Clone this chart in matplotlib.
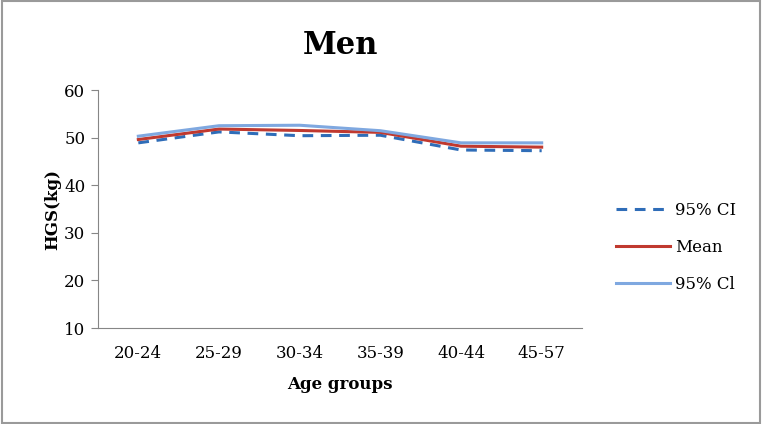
import numpy as np
import matplotlib.pyplot as plt
from matplotlib.patches import Rectangle

groups = ["20-24", "25-29", "30-34", "35-39", "40-44", "45-57"]
ci_low = [48.9, 51.2, 50.4, 50.5, 47.4, 47.25]
mean = [49.6, 51.8, 51.5, 51.1, 48.2, 48.0]
ci_high = [50.3, 52.5, 52.6, 51.45, 48.9, 48.9]

plt.rcParams["font.family"] = ["DejaVu Serif"]

fig = plt.figure(figsize=(7.62, 4.24), dpi=100)
ax = fig.add_axes([0.1286, 0.2264, 0.6352, 0.5613])

x = np.arange(len(groups))
ax.plot(x, ci_low, color="#2F6DB8", lw=2.2, ls=(0, (3.5, 2.5)), label="95% CI")
ax.plot(x, mean, color="#C0392F", lw=2.2, label="Mean")
ax.plot(x, ci_high, color="#7FA8E0", lw=2.2, label="95% Cl")

ax.set_xlim(-0.5, 5.5)
ax.set_ylim(10, 60)
ax.set_yticks([10, 20, 30, 40, 50, 60])
ax.set_xticks(x)
ax.set_xticklabels(groups)
ax.tick_params(axis="x", length=0, pad=12, labelsize=12)
ax.tick_params(axis="y", length=5, color="#868686", labelsize=12, pad=4)
for s in ["top", "right"]:
    ax.spines[s].set_visible(False)
for s in ["left", "bottom"]:
    ax.spines[s].set_color("#868686")

ax.set_title("Men", fontsize=22, fontweight="bold", pad=26)
ax.set_xlabel("Age groups", fontsize=12, fontweight="bold", labelpad=10)
ax.set_ylabel("HGS(kg)", fontsize=12, fontweight="bold", labelpad=2)

ax.legend(loc="center left", bbox_to_anchor=(1.04, 0.34), frameon=False,
          fontsize=12, handlelength=3.2, labelspacing=1.2, handletextpad=0.3)

fig.patches.append(Rectangle((0.002, 0.003), 0.996, 0.994, transform=fig.transFigure,
                             fill=False, edgecolor="#9A9A9A", lw=1.5))

fig.savefig("out.png", dpi=100)
